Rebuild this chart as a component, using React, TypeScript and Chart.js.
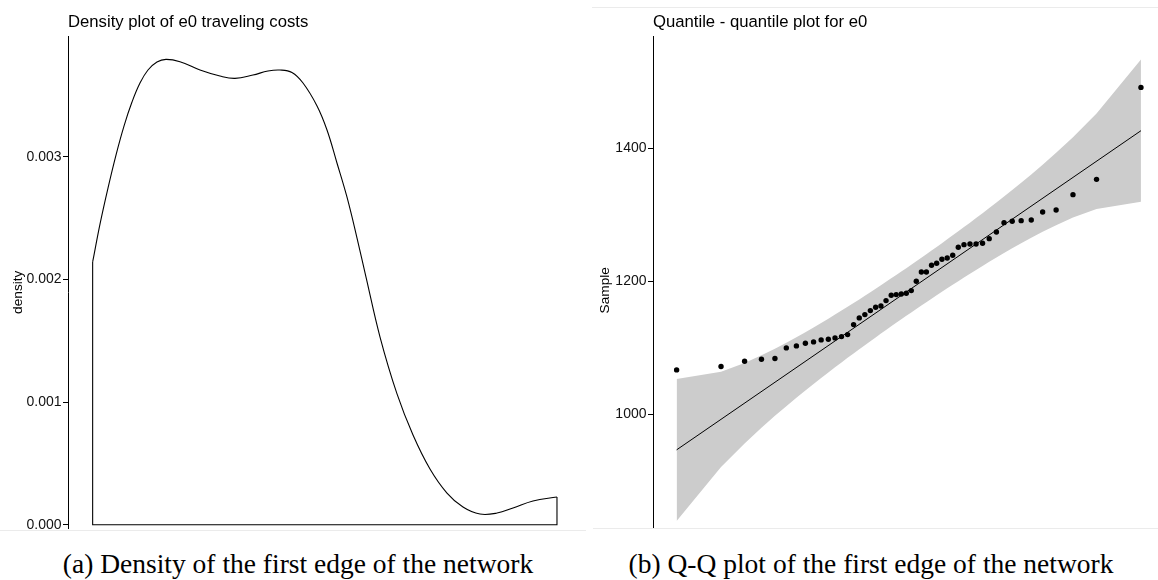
import React, { useEffect, useRef } from 'react';
import { Chart, registerables } from 'chart.js';
Chart.register(...registerables);

const FONT = "'Liberation Sans', Arial, Helvetica, sans-serif";

// ---------- Panel (a): density of e0 traveling costs ----------
const densityTitle = 'Density plot of e0 traveling costs';
const densityAxisTitle = 'density';
const densityX = [
  1068.3, 1075.0, 1082.3, 1089.6, 1096.9, 1104.2, 1111.5, 1118.8, 1127.0, 1135.2,
  1148.0, 1166.3, 1184.5, 1198.2, 1214.6, 1228.3, 1239.3, 1250.2, 1260.3, 1273.1,
  1282.2, 1291.3, 1300.4, 1309.6, 1317.8, 1330.6, 1346.1, 1360.7, 1376.2, 1391.7,
  1406.3, 1421.8, 1437.4, 1452.0, 1470.2, 1492.1,
];
const densityY = [
  0.002142, 0.002451, 0.002745, 0.003014, 0.00325, 0.003446, 0.003601, 0.003707, 0.003772, 0.003794,
  0.003775, 0.003707, 0.003658, 0.003639, 0.003666, 0.003699, 0.003707, 0.003687, 0.003601, 0.003414,
  0.003218, 0.002949, 0.002672, 0.002337, 0.002019, 0.00153, 0.001066, 0.000731, 0.000454, 0.000258,
  0.000144, 0.000087, 0.000095, 0.000136, 0.000193, 0.000226,
];
const densityTicks = [0, 0.001, 0.002, 0.003];
const densityTickLabels = ['0.000', '0.001', '0.002', '0.003'];

// ---------- Panel (b): Q-Q plot ----------
const qqTitle = 'Quantile - quantile plot for e0';
const qqAxisTitle = 'Sample';
const theoQ = [
  -2.326, -1.881, -1.645, -1.476, -1.341, -1.227, -1.126, -1.036, -0.954, -0.878,
  -0.806, -0.739, -0.674, -0.613, -0.553, -0.496, -0.44, -0.385, -0.332, -0.279,
  -0.228, -0.176, -0.126, -0.075, -0.025, 0.025, 0.075, 0.126, 0.176, 0.228,
  0.279, 0.332, 0.385, 0.44, 0.496, 0.553, 0.613, 0.674, 0.739, 0.806,
  0.878, 0.954, 1.036, 1.126, 1.227, 1.341, 1.476, 1.645, 1.881, 2.326,
];
const sampleVals = [
  1067, 1072, 1080, 1083, 1084, 1100, 1103, 1107, 1109, 1112,
  1113, 1115, 1117, 1120, 1135, 1145, 1150, 1156, 1161, 1163,
  1171, 1179, 1180, 1181, 1182, 1186, 1200, 1214, 1214, 1224,
  1227, 1233, 1235, 1239, 1251, 1255, 1256, 1256, 1257, 1264,
  1274, 1288, 1290, 1291, 1292, 1304, 1307, 1330, 1353, 1491,
];
const bandUpper = [
  1053.5, 1064.4, 1077.5, 1088.8, 1098.7, 1107.6, 1115.9, 1123.5, 1130.6, 1137.4,
  1143.8, 1150.0, 1156.0, 1161.7, 1167.3, 1172.8, 1178.3, 1183.6, 1188.8, 1194.1,
  1199.1, 1204.4, 1209.4, 1214.6, 1219.7, 1224.9, 1230.0, 1235.4, 1240.6, 1246.1,
  1251.5, 1257.2, 1263.0, 1268.9, 1275.0, 1281.3, 1287.9, 1294.8, 1302.2, 1309.8,
  1318.2, 1327.2, 1336.9, 1347.9, 1360.4, 1374.9, 1392.8, 1416.2, 1451.8, 1532.7,
];
const bandLower = [
  840.3, 921.2, 956.7, 980.2, 998.1, 1012.6, 1025.1, 1036.1, 1045.8, 1054.8,
  1063.2, 1070.8, 1078.2, 1085.1, 1091.7, 1098.0, 1104.1, 1110.0, 1115.8, 1121.5,
  1126.9, 1132.4, 1137.6, 1143.0, 1148.1, 1153.3, 1158.4, 1163.6, 1168.6, 1173.9,
  1178.9, 1184.2, 1189.4, 1194.7, 1200.2, 1205.7, 1211.3, 1217.0, 1223.0, 1229.2,
  1235.6, 1242.4, 1249.5, 1257.1, 1265.4, 1274.3, 1284.2, 1295.6, 1308.6, 1319.5,
];
const lineQ = [-2.326, 2.326];
const lineVals = [947, 1426];
const sampleTicks = [1000, 1200, 1400];

const captionA = '(a) Density of the first edge of the network';
const captionB = '(b) Q-Q plot of the first edge of the network';

function yAxis(min: number, max: number, tickVals: number[], fmt: (v: any, i: number) => string,
  title: string, titlePad: number, width: number) {
  return {
    type: 'linear',
    position: 'left',
    min,
    max,
    afterBuildTicks: (s: any) => { s.ticks = tickVals.map((v) => ({ value: v })); },
    afterFit: (s: any) => { s.width = width; s.paddingTop = 0; s.paddingBottom = 0; },
    ticks: {
      color: '#111',
      font: { family: FONT, size: 14 },
      padding: 1.5,
      autoSkip: false,
      callback: fmt,
    },
    grid: {
      display: true,
      drawOnChartArea: false,
      drawTicks: true,
      tickLength: 5,
      color: '#000',
      tickColor: '#000',
      lineWidth: 1,
    },
    border: { display: true, color: '#000', width: 1 },
    title: {
      display: true,
      text: title,
      color: '#000',
      font: { family: FONT, size: 13.7 },
      padding: { top: titlePad, bottom: 0 },
    },
  };
}

function titleOpts(text: string) {
  return {
    display: true,
    text,
    align: 'start',
    fullSize: false,
    color: '#000',
    font: { family: FONT, size: 16.7, weight: 'normal' },
    padding: { top: 12, bottom: 4.5 },
  };
}

export default function App() {
  const leftRef = useRef<HTMLCanvasElement>(null);
  const rightRef = useRef<HTMLCanvasElement>(null);

  useEffect(() => {
    const n = densityX.length;
    const left = new Chart(leftRef.current as HTMLCanvasElement, {
      type: 'line',
      data: {
        datasets: [
          {
            data: densityX.map((x, i) => ({ x, y: densityY[i] })),
            borderColor: '#000',
            borderWidth: 1.1,
            pointRadius: 0,
            tension: 0.4,
            fill: false,
          },
          {
            data: [
              { x: densityX[0], y: densityY[0] },
              { x: densityX[0], y: 0 },
              { x: densityX[n - 1], y: 0 },
              { x: densityX[n - 1], y: densityY[n - 1] },
            ],
            borderColor: '#000',
            borderWidth: 1.1,
            pointRadius: 0,
            tension: 0,
            fill: false,
          },
        ],
      } as any,
      options: {
        responsive: false,
        maintainAspectRatio: false,
        animation: false,
        devicePixelRatio: 1,
        events: [],
        layout: { padding: 0 },
        scales: {
          x: { type: 'linear', display: false, min: 1045.8, max: 1512.2 },
          y: yAxis(-0.00019, 0.00398, densityTicks, (_v: any, i: number) => densityTickLabels[i],
            densityAxisTitle, 9.8, 68),
        },
        plugins: {
          legend: { display: false },
          tooltip: { enabled: false },
          title: titleOpts(densityTitle),
        },
      } as any,
    });

    const right = new Chart(rightRef.current as HTMLCanvasElement, {
      type: 'line',
      data: {
        datasets: [
          {
            data: theoQ.map((q, i) => ({ x: q, y: sampleVals[i] })),
            showLine: false,
            pointRadius: 2.7,
            pointBackgroundColor: '#000',
            pointBorderWidth: 0,
            pointBorderColor: '#000',
          },
          {
            data: lineQ.map((q, i) => ({ x: q, y: lineVals[i] })),
            borderColor: '#000',
            borderWidth: 1,
            pointRadius: 0,
            fill: false,
          },
          {
            data: theoQ.map((q, i) => ({ x: q, y: bandUpper[i] })),
            borderColor: 'rgba(0,0,0,0)',
            borderWidth: 0,
            pointRadius: 0,
            tension: 0,
            backgroundColor: '#cccccc',
            fill: '+1',
          },
          {
            data: theoQ.map((q, i) => ({ x: q, y: bandLower[i] })),
            borderColor: 'rgba(0,0,0,0)',
            borderWidth: 0,
            pointRadius: 0,
            tension: 0,
            fill: false,
          },
        ],
      } as any,
      options: {
        responsive: false,
        maintainAspectRatio: false,
        animation: false,
        devicePixelRatio: 1,
        events: [],
        layout: { padding: 0 },
        scales: {
          x: { type: 'linear', display: false, min: -2.5626, max: 2.5368 },
          y: yAxis(805.7, 1567.3, sampleTicks, (v: any) => String(v), qqAxisTitle, 16.6, 73),
        },
        plugins: {
          legend: { display: false },
          tooltip: { enabled: false },
          title: titleOpts(qqTitle),
        },
      } as any,
    });

    return () => {
      left.destroy();
      right.destroy();
    };
  }, []);

  const capStyle: React.CSSProperties = {
    position: 'absolute',
    top: 550,
    fontFamily: "'Liberation Serif', 'Times New Roman', serif",
    fontSize: 27.5,
    lineHeight: '27.5px',
    textAlign: 'center',
    whiteSpace: 'nowrap',
    color: '#000',
  };

  return (
    <div style={{ position: 'absolute', left: 0, top: 0, width: 1158, height: 580, overflow: 'hidden', background: '#fff' }}>
      <div style={{ position: 'absolute', left: 0, top: 0, width: 580, height: 529, overflow: 'hidden' }}>
        <canvas ref={leftRef} width={579} height={548} style={{ display: 'block' }} />
      </div>
      <div style={{ position: 'absolute', left: 0, top: 530, width: 586, height: 1, background: '#ebebeb' }} />
      <div style={{ position: 'absolute', left: 580, top: 0, width: 578, height: 528, overflow: 'hidden' }}>
        <canvas ref={rightRef} width={586} height={548} style={{ display: 'block' }} />
      </div>
      <div style={{ position: 'absolute', left: 592, top: 7, width: 566, height: 1, background: '#ebebeb' }} />
      <div style={{ position: 'absolute', left: 593, top: 528, width: 565, height: 1, background: '#ebebeb' }} />
      <div style={{ ...capStyle, left: 0, width: 596 }}>{captionA}</div>
      <div style={{ ...capStyle, left: 580, width: 582 }}>{captionB}</div>
    </div>
  );
}
